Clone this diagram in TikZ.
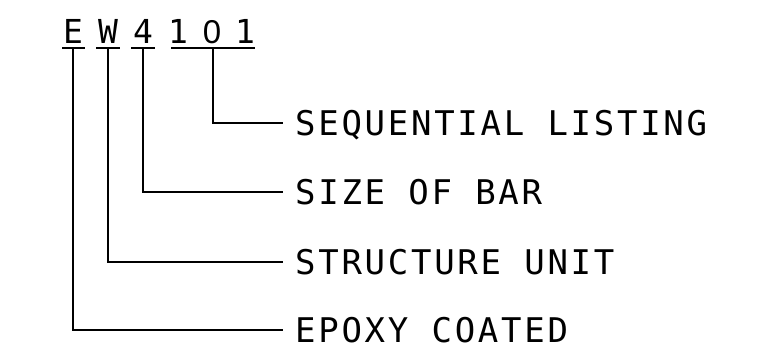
\documentclass[tikz,border=0pt]{standalone}
\usepackage{fontspec}
\usepackage{tikz}
\usetikzlibrary{positioning, calc}
\newfontfamily\cadfont[LetterSpace=8]{DejaVu Sans Mono}
\newfontfamily\zerofont{Liberation Sans}
\tikzset{
  codechar/.style={anchor=base, inner sep=0pt, font=\cadfont\fontsize{33}{33}\selectfont},
  callout/.style={anchor=west, inner xsep=12pt, inner ysep=0pt, text height=24pt,
                  text depth=0pt, font=\cadfont\fontsize{34}{34}\selectfont},
  leader/.style={line width=1.5pt},
}
\begin{document}
\begin{tikzpicture}[x=1pt, y=-1pt]
    \useasboundingbox (0,0) rectangle (782,359);
    % Code letters
    \node[codechar] (cE)  at (73,43)  {E};
    \node[codechar] (cW)  at (108,43) {W};
    \node[codechar] (c4)  at (143,43) {4};
    \node[codechar] (c1a) at (178,43) {1};
    \node[codechar] (c0)  at (212,43) {\zerofont 0};
    \node[codechar] (c1b) at (245,43) {1};
    % Underlines
    \coordinate (uE)   at (73,48);
    \coordinate (uW)   at (108,48);
    \coordinate (u4)   at (143,48);
    \coordinate (u101) at (213,48);
    \draw[leader] (62,48) -- (85,48);
    \draw[leader] (96,48) -- (120,48);
    \draw[leader] (131,48) -- (155,48);
    \draw[leader] (171,48) -- (255,48);
    % Callouts
    \node[callout] (seq)    at (283,123) {SEQUENTIAL LISTING};
    \node[callout] (size)   at (283,192) {SIZE OF BAR};
    \node[callout] (unit)   at (283,262) {STRUCTURE UNIT};
    \node[callout] (epoxy)  at (283,330) {EPOXY COATED};
    % Leaders
    \draw[leader] (u101) |- (seq.west);
    \draw[leader] (u4)   |- (size.west);
    \draw[leader] (uW)   |- (unit.west);
    \draw[leader] (uE)   |- (epoxy.west);
  \end{tikzpicture}
\end{document}
